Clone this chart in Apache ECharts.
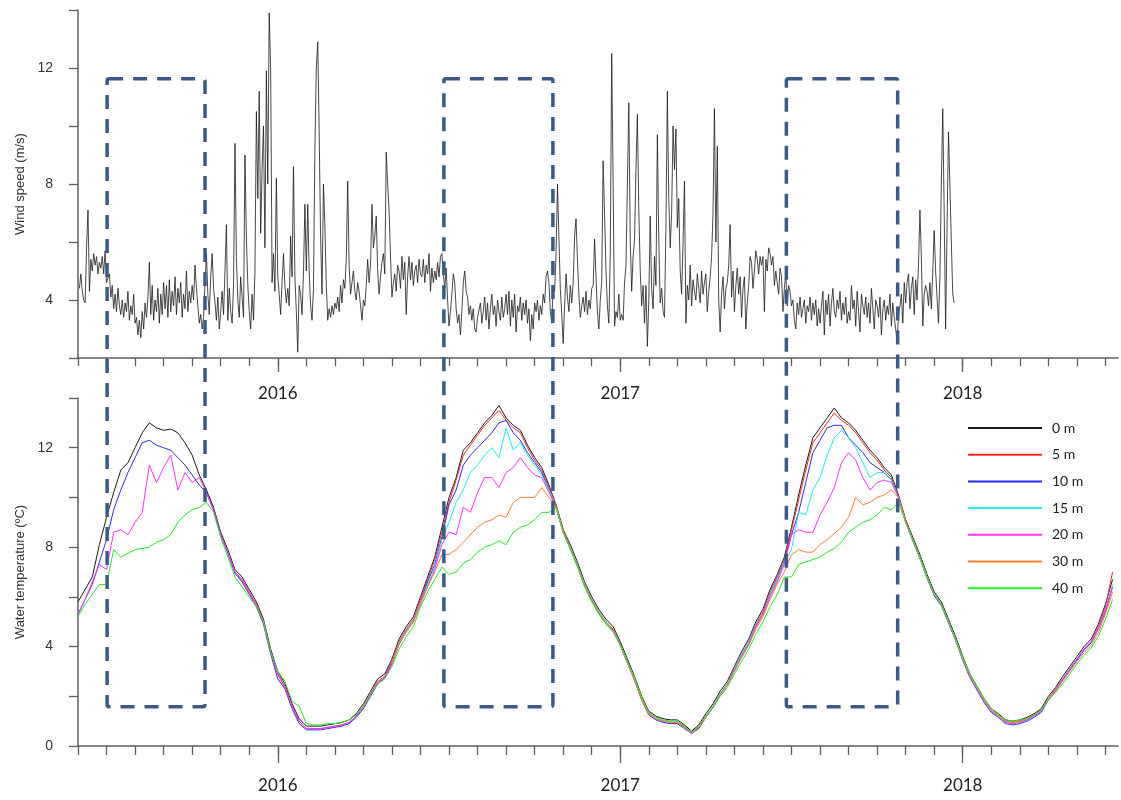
<!DOCTYPE html>
<html>
<head>
<meta charset="utf-8">
<script src="https://cdn.jsdelivr.net/npm/echarts@6/dist/echarts.min.js"></script>
<style>
  html, body { margin: 0; padding: 0; background: #fff; }
  #main { width: 1121px; height: 800px; }
</style>
</head>
<body>
<div id="main"></div>
<script>
// x unit = months since 1 June 2015 (0 = Jun 2015, 7 = Jan 2016 ...)
var monthTicks = [0,1,2,3,4,5,6,7,8,9,10,11,12,13,14,15,16,17,18,19,20,21,22,23,24,25,26,27,28,29,30,31,32,33,34,35,36];
var yearTicks = [7, 19, 31];
var yearLabels = ['2016', '2017', '2018'];
var axisEnd = 36.44;

var windLabels = [4, 8, 12];
var tempLabels = [0, 4, 8, 12];

// wind speed (m/s), one value every 0.05 month from month 0.05 (one row = one month)
var windStart = 0.05, windStep = 0.05;
var windSpeed = [
  4.4, 4.9, 4.3, 4.0, 3.9, 5.8, 7.1, 4.3, 5.4, 5.0, 5.6, 5.2, 5.5, 4.9, 5.3, 5.1, 5.5, 4.9, 5.7, 4.6,
  4.6, 4.9, 4.1, 4.5, 3.7, 4.2, 3.6, 4.4, 3.8, 3.5, 4.0, 3.4, 3.9, 3.6, 4.3, 3.3, 3.8, 3.5, 4.2, 3.2,
  3.4, 2.8, 3.3, 2.7, 3.6, 3.0, 3.9, 3.4, 4.1, 5.3, 3.5, 4.5, 3.3, 4.0, 3.6, 4.4, 3.2, 4.2, 3.5, 4.6,
  3.7, 4.5, 3.4, 4.7, 3.6, 4.3, 3.8, 4.8, 3.5, 4.4, 3.9, 4.6, 3.4, 4.2, 3.7, 5.0, 3.6, 4.3, 3.9, 4.5,
  4.0, 5.2, 4.4, 3.8, 3.2, 3.5, 3.0, 3.4, 4.6, 5.6, 4.2, 3.5, 4.8, 5.6, 4.4, 3.9, 3.3, 4.1, 3.0, 3.6,
  4.3, 3.5, 5.0, 6.6, 3.3, 4.4, 3.6, 3.2, 4.5, 9.4, 5.5, 4.0, 3.4, 4.8, 4.1, 3.4, 9.0, 6.2, 4.5, 3.6,
  3.0, 4.2, 3.3, 5.0, 10.5, 7.5, 11.2, 6.3, 8.5, 10.0, 5.8, 11.9, 8.0, 13.9, 12.0, 4.6, 5.6, 4.3, 8.2, 4.8,
  4.2, 3.5, 4.6, 5.6, 4.5, 3.9, 4.4, 3.8, 6.2, 4.8, 8.6, 4.8, 3.6, 2.2, 4.5, 4.2, 3.5, 4.9, 7.3, 5.0,
  7.3, 5.0, 3.8, 3.3, 4.4, 9.2, 12.0, 12.9, 9.8, 6.2, 4.2, 8.0, 6.6, 4.5, 3.3, 3.7, 3.4, 3.8, 3.5, 3.9,
  3.7, 4.1, 3.6, 4.5, 3.9, 4.7, 4.4, 5.4, 8.1, 5.2, 4.2, 4.6, 5.0, 4.3, 4.0, 4.6, 4.3, 3.8, 3.3, 4.0,
  3.8, 4.5, 5.4, 4.6, 5.2, 7.3, 5.8, 6.2, 6.9, 5.0, 4.2, 4.8, 5.3, 5.6, 4.9, 9.1, 8.0, 7.1, 5.5, 4.1,
  4.6, 4.9, 4.3, 5.2, 5.0, 4.4, 5.5, 4.7, 5.3, 3.5, 4.8, 5.5, 4.7, 5.3, 4.5, 5.0, 5.2, 4.6, 5.4, 4.9,
  4.8, 5.4, 4.6, 5.2, 4.9, 5.6, 4.3, 5.1, 4.6, 5.0, 4.7, 5.3, 4.8, 5.5, 5.6, 4.9, 4.4, 5.1, 4.0, 3.1,
  3.6, 4.2, 4.9, 4.6, 3.7, 3.2, 3.5, 2.8, 3.6, 4.6, 5.0, 4.3, 4.1, 3.5, 3.8, 3.3, 3.7, 3.0, 2.9, 3.4,
  3.4, 3.9, 3.2, 3.6, 4.1, 3.3, 3.9, 3.0, 3.7, 4.2, 3.5, 3.8, 3.1, 4.0, 3.6, 3.3, 4.1, 3.4, 3.7, 4.2,
  3.5, 4.3, 3.1, 4.0, 3.4, 4.2, 2.9, 3.8, 3.6, 4.1, 3.3, 3.9, 3.5, 4.0, 3.2, 3.7, 2.6, 3.5, 3.0, 3.9,
  3.6, 4.0, 3.3, 3.8, 3.5, 4.2, 3.9, 4.8, 5.0, 4.6, 3.6, 3.2, 4.5, 4.3, 5.6, 8.0, 6.2, 4.4, 3.5, 2.5,
  3.8, 4.9, 4.1, 3.6, 4.5, 3.9, 4.6, 6.2, 6.8, 5.4, 4.2, 3.4, 3.8, 4.1, 3.6, 4.3, 3.5, 4.0, 3.7, 4.4,
  4.5, 6.1, 4.8, 3.6, 3.0, 4.0, 4.6, 8.8, 7.0, 5.0, 3.8, 3.2, 5.6, 12.5, 8.0, 3.1, 3.6, 3.4, 4.2, 3.3,
  3.5, 3.3, 4.6, 5.2, 8.0, 10.8, 6.0, 4.3, 5.5, 6.1, 8.5, 10.4, 7.1, 5.0, 3.8, 4.5, 3.2, 4.5, 2.4, 4.0,
  6.9, 4.4, 3.7, 5.5, 4.5, 9.7, 6.0, 3.9, 4.4, 3.6, 3.4, 6.5, 11.2, 7.5, 5.8, 7.0, 10.0, 8.5, 9.9, 6.5,
  7.5, 5.0, 4.2, 6.0, 8.1, 3.2, 4.5, 4.0, 5.2, 3.8, 4.7, 4.3, 4.0, 4.9, 4.4, 3.9, 5.0, 4.2, 4.6, 4.9,
  3.6, 4.3, 4.8, 5.5, 7.0, 10.6, 6.0, 9.3, 4.0, 2.9, 4.2, 4.8, 3.7, 4.4, 4.6, 5.2, 6.6, 4.1, 5.0, 3.6,
  4.5, 5.1, 4.2, 4.8, 3.4, 4.4, 4.8, 3.0, 3.9, 4.5, 5.5, 5.3, 4.4, 5.0, 5.7, 5.4, 4.9, 5.5, 5.2, 5.5,
  3.6, 5.4, 5.0, 5.8, 5.6, 5.2, 5.5, 4.5, 5.0, 4.6, 4.2, 5.1, 4.8, 3.6, 4.4, 4.9, 3.8, 4.5, 4.3, 3.8,
  4.0, 3.3, 3.0, 3.9, 3.5, 4.1, 3.4, 3.7, 4.0, 3.2, 3.8, 3.6, 4.1, 3.3, 3.9, 3.5, 4.0, 3.1, 3.7, 3.2,
  3.8, 4.3, 2.8, 4.0, 3.5, 4.2, 3.1, 3.9, 4.4, 3.6, 3.4, 4.0, 3.7, 4.3, 3.3, 3.9, 3.5, 4.1, 3.2, 3.6,
  3.3, 4.5, 3.7, 4.0, 3.1, 4.3, 3.6, 2.9, 4.2, 3.8, 3.5, 4.1, 3.4, 3.9, 3.2, 4.4, 3.7, 3.0, 4.0, 3.8,
  3.4, 4.1, 2.8, 3.7, 4.0, 3.3, 3.8, 3.5, 4.2, 3.1, 3.9, 3.4, 3.0, 2.6, 3.5, 3.8, 4.2, 3.2, 4.6, 3.9,
  4.6, 4.9, 3.7, 4.4, 4.8, 3.5, 4.7, 4.0, 5.2, 7.1, 5.5, 3.1, 4.2, 4.5, 4.3, 3.8, 4.6, 3.7, 5.0, 6.4,
  5.0, 4.1, 3.2, 4.8, 8.0, 10.6, 7.0, 3.0, 6.5, 9.8, 8.0, 6.0, 4.2, 3.9
];

// water temperature (ºC), one value every quarter month
var tempStep = 0.25;
var depthNames = ['0 m', '5 m', '10 m', '15 m', '20 m', '30 m', '40 m'];
var depthStart = [0, 4.5, 0, 11, 0, 11, 0];

var temp0m = [
  5.8, 6.3, 6.8, 8.1, 9.2, 10.2, 11.1, 11.4, 12.0, 12.6,
  13.0, 12.8, 12.7, 12.75, 12.6, 12.2, 11.7, 10.9, 10.3, 9.6,
  8.6, 7.9, 7.1, 6.8, 6.3, 5.8, 5.1, 3.9, 3.0, 2.5,
  1.7, 1.1, 0.8, 0.8, 0.8, 0.85, 0.9, 0.95, 1.05, 1.3,
  1.7, 2.2, 2.7, 2.9, 3.5, 4.3, 4.8, 5.2, 6.0, 6.8,
  7.6, 8.8, 10.0, 10.8, 11.9, 12.2, 12.6, 13.0, 13.3, 13.7,
  13.2, 12.9, 12.7, 12.1, 11.6, 11.2, 10.5, 9.7, 8.7, 8.1,
  7.4, 6.6, 6.0, 5.5, 5.1, 4.8, 4.2, 3.5, 2.8, 2.0,
  1.4, 1.2, 1.1, 1.05, 1.05, 0.85, 0.6, 0.85, 1.3, 1.7,
  2.2, 2.6, 3.2, 3.8, 4.3, 5.0, 5.5, 6.3, 6.9, 7.6,
  8.8, 10.1, 11.3, 12.4, 12.8, 13.2, 13.6, 13.2, 13.0, 12.7,
  12.3, 11.9, 11.6, 11.2, 10.9, 10.1, 9.1, 8.4, 7.7, 6.9,
  6.2, 5.8, 5.1, 4.4, 3.6, 2.9, 2.4, 1.9, 1.5, 1.3,
  1.05, 1.0, 1.05, 1.15, 1.3, 1.5, 2.0, 2.35, 2.8, 3.2,
  3.6, 4.0, 4.3, 4.9, 5.7, 6.7
];
var temp5m = [
  10.2, 9.5, 8.5, 7.8, 7.0, 6.7, 6.2, 5.7, 5.0, 3.8,
  2.9, 2.4, 1.6, 1.0, 0.7, 0.7, 0.7, 0.75, 0.8, 0.85,
  0.95, 1.2, 1.6, 2.1, 2.6, 2.8, 3.4, 4.2, 4.7, 5.1,
  5.9, 6.7, 7.5, 8.6, 9.8, 10.7, 11.7, 12.1, 12.5, 12.9,
  13.2, 13.5, 13.1, 12.8, 12.6, 12.0, 11.5, 11.1, 10.4, 9.7,
  8.7, 8.0, 7.3, 6.5, 5.9, 5.4, 5.0, 4.7, 4.1, 3.4,
  2.7, 1.9, 1.3, 1.1, 1.0, 0.95, 0.95, 0.8, 0.55, 0.8,
  1.2, 1.6, 2.1, 2.5, 3.1, 3.7, 4.2, 4.9, 5.4, 6.2,
  6.8, 7.5, 8.7, 9.9, 11.1, 12.2, 12.6, 13.0, 13.4, 13.1,
  12.9, 12.6, 12.2, 11.8, 11.5, 11.1, 10.8, 10.0, 9.1, 8.3,
  7.6, 6.8, 6.1, 5.7, 5.0, 4.3, 3.5, 2.8, 2.3, 1.8,
  1.4, 1.2, 1.0, 0.95, 1.0, 1.1, 1.25, 1.45, 1.9, 2.3,
  2.7, 3.1, 3.5, 3.9, 4.2, 4.8, 5.6, 7.0
];
var temp10m = [
  5.3, 5.9, 6.5, 7.4, 8.3, 9.5, 10.3, 11.0, 11.6, 12.2,
  12.3, 12.1, 12.0, 11.9, 11.6, 11.3, 10.9, 10.5, 10.2, 9.5,
  8.5, 7.75, 6.95, 6.6, 6.1, 5.6, 4.9, 3.7, 2.7, 2.3,
  1.5, 0.9, 0.65, 0.65, 0.65, 0.7, 0.75, 0.8, 0.9, 1.15,
  1.5, 2.0, 2.5, 2.75, 3.3, 4.1, 4.6, 5.0, 5.8, 6.6,
  7.3, 8.4, 9.7, 10.3, 11.3, 11.7, 12.0, 12.3, 12.6, 13.0,
  13.1, 12.6, 12.3, 11.8, 11.4, 11.0, 10.3, 9.6, 8.6, 7.95,
  7.25, 6.45, 5.85, 5.35, 4.95, 4.6, 4.05, 3.35, 2.65, 1.85,
  1.25, 1.05, 0.95, 0.9, 0.9, 0.7, 0.5, 0.7, 1.15, 1.55,
  2.05, 2.45, 3.05, 3.6, 4.1, 4.8, 5.3, 6.1, 6.7, 7.4,
  8.5, 9.4, 10.6, 11.8, 12.3, 12.8, 12.9, 12.9, 12.4, 12.1,
  11.8, 11.4, 11.2, 11.0, 10.7, 10.0, 9.0, 8.25, 7.55, 6.75,
  6.05, 5.65, 4.95, 4.25, 3.45, 2.75, 2.25, 1.75, 1.35, 1.15,
  0.9, 0.85, 0.9, 1.0, 1.15, 1.35, 1.85, 2.2, 2.65, 3.05,
  3.45, 3.85, 4.15, 4.7, 5.4, 6.4
];
var temp15m = [
  3.35, 4.15, 4.65, 5.05, 5.8, 6.5, 7.2, 8.3, 9.0, 9.8,
  10.3, 11.0, 11.3, 11.7, 12.0, 11.6, 12.8, 11.9, 12.2, 11.7,
  11.3, 10.9, 10.3, 9.6, 8.6, 8.0, 7.3, 6.5, 5.9, 5.4,
  5.0, 4.65, 4.1, 3.4, 2.7, 1.9, 1.3, 1.1, 1.0, 0.95,
  0.95, 0.75, 0.5, 0.75, 1.2, 1.6, 2.1, 2.5, 3.1, 3.7,
  4.2, 4.85, 5.3, 6.1, 6.7, 7.4, 7.9, 9.4, 9.3, 10.3,
  10.8, 11.7, 12.4, 12.7, 12.4, 12.0, 11.4, 10.8, 11.0, 11.0,
  10.7, 10.0, 9.0, 8.3, 7.6, 6.8, 6.1, 5.7, 5.0, 4.3,
  3.5, 2.8, 2.3, 1.8, 1.4, 1.2, 0.95, 0.9, 0.95, 1.05,
  1.2, 1.4, 1.9, 2.25, 2.7, 3.1, 3.5, 3.9, 4.2, 4.7,
  5.5, 6.5
];
var temp20m = [
  5.3, 5.9, 6.6, 7.3, 7.1, 8.6, 8.7, 8.5, 9.0, 9.4,
  11.3, 10.6, 11.2, 11.7, 10.3, 11.0, 10.6, 10.8, 10.2, 9.5,
  8.5, 7.8, 7.0, 6.65, 6.15, 5.65, 4.95, 3.75, 2.85, 2.35,
  1.6, 1.0, 0.7, 0.7, 0.7, 0.75, 0.8, 0.85, 0.95, 1.2,
  1.55, 2.05, 2.55, 2.75, 3.35, 4.1, 4.6, 5.0, 5.8, 6.4,
  7.1, 8.1, 8.6, 8.5, 9.6, 9.4, 10.2, 10.8, 10.8, 10.4,
  11.0, 11.2, 11.6, 11.2, 10.9, 10.8, 10.2, 9.6, 8.6, 7.95,
  7.25, 6.45, 5.85, 5.35, 4.95, 4.65, 4.05, 3.35, 2.65, 1.85,
  1.25, 1.1, 1.0, 0.95, 0.95, 0.75, 0.5, 0.75, 1.15, 1.55,
  2.05, 2.45, 3.05, 3.6, 4.1, 4.8, 5.3, 6.0, 6.6, 7.3,
  8.5, 8.7, 8.6, 8.6, 9.3, 9.8, 10.4, 11.4, 11.8, 11.5,
  10.8, 10.3, 10.6, 10.7, 10.6, 10.0, 9.0, 8.3, 7.6, 6.8,
  6.1, 5.7, 5.0, 4.3, 3.5, 2.8, 2.3, 1.8, 1.4, 1.2,
  0.95, 0.9, 0.95, 1.05, 1.2, 1.4, 1.9, 2.25, 2.7, 3.1,
  3.5, 3.9, 4.2, 4.7, 5.5, 6.4
];
var temp30m = [
  3.3, 4.1, 4.6, 5.0, 5.7, 6.4, 7.0, 7.7, 7.7, 7.9,
  8.2, 8.5, 8.8, 9.0, 9.1, 9.3, 9.2, 9.8, 10.0, 10.0,
  10.0, 10.4, 10.0, 9.6, 8.6, 7.95, 7.25, 6.45, 5.85, 5.35,
  4.95, 4.65, 4.05, 3.35, 2.65, 1.85, 1.3, 1.1, 1.0, 0.95,
  0.95, 0.75, 0.55, 0.75, 1.15, 1.55, 2.05, 2.45, 3.0, 3.55,
  4.05, 4.7, 5.2, 5.9, 6.5, 7.0, 7.7, 7.9, 7.8, 7.8,
  8.1, 8.3, 8.55, 8.8, 9.2, 10.0, 9.7, 9.8, 10.0, 10.1,
  10.3, 10.0, 9.0, 8.3, 7.6, 6.8, 6.1, 5.7, 5.0, 4.3,
  3.5, 2.85, 2.35, 1.85, 1.45, 1.2, 1.0, 0.95, 1.0, 1.1,
  1.25, 1.45, 1.9, 2.2, 2.6, 3.0, 3.4, 3.75, 4.05, 4.55,
  5.3, 6.2
];
var temp40m = [
  5.2, 5.7, 6.1, 6.5, 6.5, 7.9, 7.6, 7.75, 7.9, 7.95,
  8.0, 8.2, 8.3, 8.5, 9.0, 9.3, 9.5, 9.6, 9.8, 9.4,
  8.4, 7.6, 6.8, 6.4, 6.0, 5.6, 5.0, 3.8, 3.0, 2.6,
  1.8, 1.6, 0.9, 0.85, 0.85, 0.9, 0.9, 0.95, 1.05, 1.25,
  1.6, 2.05, 2.5, 2.7, 3.2, 3.9, 4.4, 4.8, 5.6, 6.2,
  6.7, 7.2, 6.9, 7.0, 7.35, 7.5, 7.8, 8.0, 8.1, 8.25,
  8.1, 8.6, 8.8, 8.9, 9.1, 9.4, 9.4, 9.6, 8.6, 7.9,
  7.2, 6.4, 5.8, 5.3, 4.9, 4.6, 4.1, 3.4, 2.75, 1.95,
  1.35, 1.15, 1.05, 1.0, 1.0, 0.8, 0.55, 0.8, 1.2, 1.55,
  2.0, 2.35, 2.9, 3.4, 3.9, 4.5, 5.0, 5.6, 6.1, 6.8,
  6.8, 7.3, 7.4, 7.5, 7.6, 7.8, 7.95, 8.2, 8.6, 8.8,
  9.0, 9.1, 9.3, 9.6, 9.5, 9.8, 9.0, 8.3, 7.6, 6.8,
  6.1, 5.7, 5.0, 4.3, 3.55, 2.9, 2.4, 1.9, 1.5, 1.25,
  1.05, 1.0, 1.05, 1.1, 1.25, 1.45, 1.85, 2.15, 2.5, 2.9,
  3.3, 3.65, 3.95, 4.4, 5.1, 5.9
];

// dashed boxes: stratified periods (months), top in wind units, bottom in temperature units
var boxStart = [1.02, 12.82, 24.82];
var boxEnd = [4.45, 16.64, 28.72];
var boxTopWind = 11.63;
var boxBottomTemp = 1.58;

var depthColors = ['#1a1a1a', '#ff2a2a', '#2a2aff', '#22eeee', '#ff33ff', '#ff8033', '#22ee22'];
var axisColor = '#5f5f5f';
var tempRows = [temp0m, temp5m, temp10m, temp15m, temp20m, temp30m, temp40m];

function toPairs(vals, start, step) {
  return vals.map(function (v, i) { return [+(start + i * step).toFixed(3), v]; });
}

function monthAxis(grid, len) {
  return {
    type: 'value', gridIndex: grid, min: 0, max: axisEnd, position: 'bottom',
    axisLine: { show: true, onZero: false, lineStyle: { color: axisColor, width: 1.5 } },
    axisTick: { show: true, customValues: monthTicks, length: len, lineStyle: { color: axisColor, width: 1.3 } },
    axisLabel: { show: false },
    splitLine: { show: false }
  };
}
function yearAxis(grid, len, margin) {
  return {
    type: 'value', gridIndex: grid, min: 0, max: axisEnd, position: 'bottom',
    axisLine: { show: false, onZero: false },
    axisTick: { show: true, customValues: yearTicks, length: len, lineStyle: { color: axisColor, width: 1.3 } },
    axisLabel: {
      show: true, customValues: yearTicks, margin: margin,
      formatter: function (v) { return yearLabels[yearTicks.indexOf(v)]; },
      fontFamily: 'Lato', fontSize: 17, color: '#222'
    },
    splitLine: { show: false }
  };
}
function leftAxis(grid, min, name, gap, labels) {
  return {
    type: 'value', gridIndex: grid, min: min, max: 14, interval: 2,
    name: name, nameLocation: 'middle', nameGap: gap,
    nameTextStyle: { fontFamily: 'Liberation Sans', fontSize: 13, color: '#333' },
    axisLine: { show: true, lineStyle: { color: axisColor, width: 1.5 } },
    axisTick: { show: true, length: 9, lineStyle: { color: axisColor, width: 1.3 } },
    axisLabel: {
      margin: 25, fontFamily: 'Liberation Sans', fontSize: 14, color: '#333',
      formatter: function (v) { return labels.indexOf(v) >= 0 ? String(v) : ''; }
    },
    splitLine: { show: false }
  };
}

var chart = echarts.init(document.getElementById('main'));

var series = [{
  name: 'wind', type: 'line', xAxisIndex: 0, yAxisIndex: 0,
  data: toPairs(windSpeed, windStart, windStep),
  symbol: 'none', lineStyle: { color: '#1a1a1a', width: 0.8 }, z: 2
}];
tempRows.forEach(function (vals, k) {
  series.push({
    name: depthNames[k], type: 'line', xAxisIndex: 2, yAxisIndex: 1,
    data: toPairs(vals, depthStart[k], tempStep),
    symbol: 'none',
    lineStyle: { color: depthColors[k], width: 1 },
    itemStyle: { color: depthColors[k] },
    z: 2 + k
  });
});

chart.setOption({
  animation: false,
  backgroundColor: '#fff',
  grid: [
    { left: 78, top: 10, width: 1040, height: 348 },
    { left: 78, top: 398, width: 1040, height: 348 }
  ],
  xAxis: [monthAxis(0, 8), yearAxis(0, 14, 27), monthAxis(1, 9), yearAxis(1, 17, 31)],
  yAxis: [
    leftAxis(0, 2, 'Wind speed (m/s)', 50, windLabels),
    leftAxis(1, 0, 'Water temperature (ºC)', 46, tempLabels)
  ],
  legend: {
    data: depthNames, orient: 'vertical', left: 963, top: 416,
    icon: 'path://M0,0 L74,0 L74,2 L0,2 Z',
    itemWidth: 74, itemHeight: 14, itemGap: 12.7, selectedMode: false,
    textStyle: { fontFamily: 'Lato', fontSize: 14, color: '#222', padding: [0, 0, 0, 5] }
  },
  series: series
});

// dashed boxes spanning both panels
var boxes = boxStart.map(function (s, k) {
  var a = chart.convertToPixel({ seriesIndex: 0 }, [s, boxTopWind]);
  var b = chart.convertToPixel({ seriesIndex: 1 }, [boxEnd[k], boxBottomTemp]);
  return {
    type: 'rect', z: 100,
    shape: { x: a[0], y: a[1], width: b[0] - a[0], height: b[1] - a[1], r: 2 },
    style: { fill: 'none', stroke: '#3b5a87', lineWidth: 3.5, lineDash: [14, 10] }
  };
});
chart.setOption({ graphic: boxes });
</script>
</body>
</html>
